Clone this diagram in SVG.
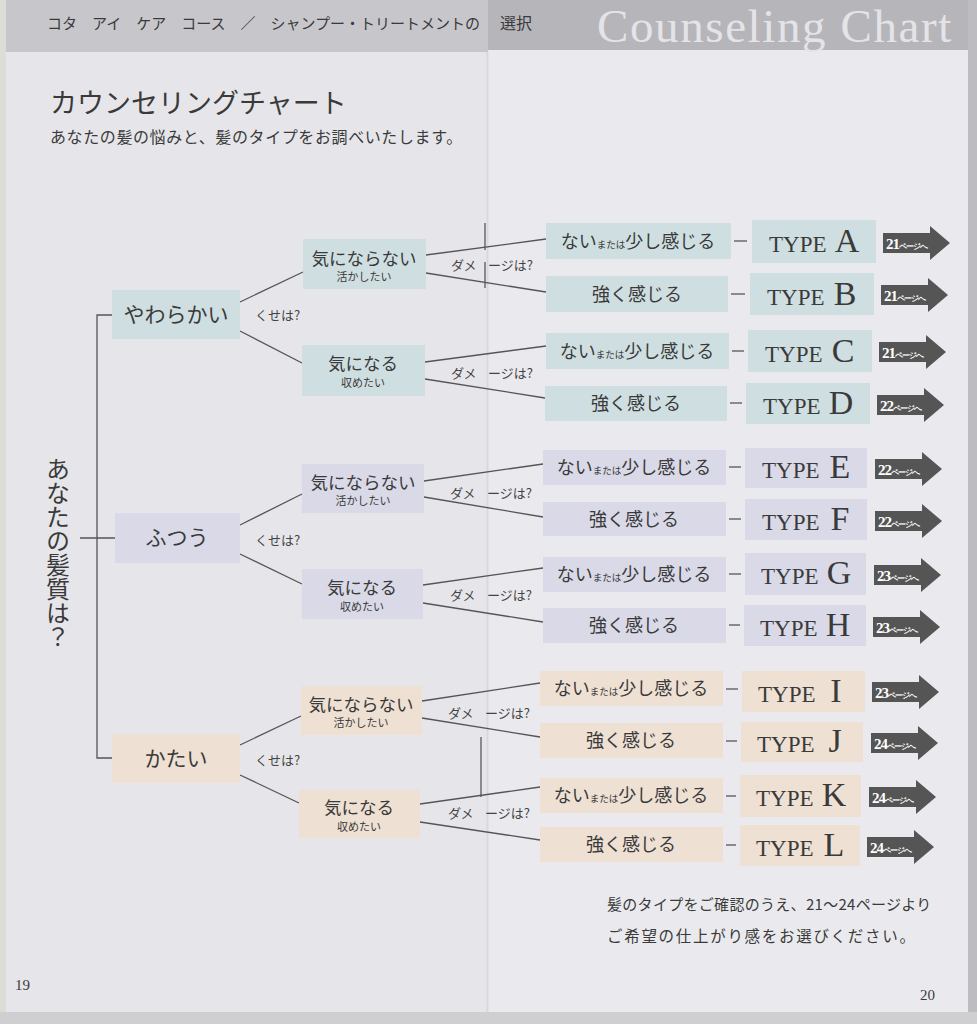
<svg xmlns="http://www.w3.org/2000/svg" width="977" height="1024" viewBox="0 0 977 1024">
<style>
.jp{font-family:"Noto Sans CJK JP","Noto Sans",sans-serif;fill:#3a3a3a}
.sr{font-family:"Liberation Serif","DejaVu Serif",serif;fill:#3a3a3a}
.bl{fill:#cfdfe1}
.pu{fill:#d9d9e7}
.be{fill:#eee0d3}
.conn{stroke:#555;stroke-width:1.3;fill:none}
.arr{fill:#555}
.l1{font-size:21px}
.l2{font-size:17.5px}
.l2s{font-size:11px}
.l3{font-size:18px}
.l3s{font-size:9.5px}
.q{font-size:13px;fill:#444}
.tp{font-size:23px}
.tl{font-size:34px}
.an{font-size:15px;fill:#fff;font-weight:bold;letter-spacing:-1px}
.as{font-size:7.5px;fill:#fff}
</style>
<defs>
<path id="ar" d="M0,-10 H47 V-17 L67,0 L47,17 V10 H0 Z"/>
</defs>
<!-- background -->
<rect x="0" y="0" width="977" height="1024" fill="#cfcfd1"/>
<rect x="6" y="0" width="482" height="1012" fill="#e6e6ea"/>
<rect x="488" y="0" width="480" height="1012" fill="#eaeaee"/>
<rect x="968" y="0" width="9" height="1012" fill="#bdbdc1"/>
<rect x="0" y="0" width="6" height="1012" fill="#dedcd6"/>
<line x1="487.5" y1="52" x2="487.5" y2="1012" stroke="#d9d9dd" stroke-width="2"/>
<!-- header -->
<rect x="6" y="0" width="482" height="52" fill="#c7c7cb"/>
<rect x="488" y="0" width="480" height="50" fill="#b6b6ba"/>
<text class="jp" x="47" y="29" font-size="15" fill="#333">コタ　アイ　ケア　コース　／　シャンプー・トリートメントの</text>
<text class="jp" x="500" y="29" font-size="16" fill="#333">選択</text>
<text x="597" y="42" font-family="Liberation Serif, serif" font-size="47" letter-spacing="1.6" fill="#e4e4e8">Counseling Chart</text>
<!-- title -->
<text class="jp" x="50" y="113" font-size="27" fill="#444">カウンセリングチャート</text>
<text class="jp" x="50" y="143" font-size="16" fill="#777" letter-spacing="0.6">あなたの髪の悩みと、髪のタイプをお調べいたします。</text>
<!-- staples -->
<line x1="485" y1="223" x2="485" y2="250" stroke="#8a8a8e" stroke-width="2"/>
<line x1="485" y1="262" x2="485" y2="288" stroke="#8a8a8e" stroke-width="2"/>
<line x1="481" y1="737" x2="481" y2="797" stroke="#8a8a8e" stroke-width="2"/>

<!-- connectors -->
<g id="connectors">
<polyline class="conn" points="112,315 97,315 97,758 112,758"/>
<line class="conn" x1="80" y1="538" x2="115" y2="538"/>
<line class="conn" x1="240" y1="302" x2="303" y2="272"/>
<line class="conn" x1="240" y1="331" x2="302" y2="363"/>
<line class="conn" x1="240" y1="525" x2="302" y2="494"/>
<line class="conn" x1="240" y1="554" x2="302" y2="584"/>
<line class="conn" x1="240" y1="745" x2="301" y2="716"/>
<line class="conn" x1="240" y1="775" x2="299" y2="803"/>
<line class="conn" x1="426" y1="255" x2="546" y2="239"/>
<line class="conn" x1="426" y1="273" x2="546" y2="292"/>
<line class="conn" x1="425" y1="362" x2="546" y2="346"/>
<line class="conn" x1="425" y1="379" x2="545" y2="398"/>
<line class="conn" x1="424" y1="481" x2="543" y2="464"/>
<line class="conn" x1="424" y1="497" x2="543" y2="517"/>
<line class="conn" x1="423" y1="585" x2="543" y2="568"/>
<line class="conn" x1="423" y1="603" x2="543" y2="622"/>
<line class="conn" x1="422" y1="701" x2="540" y2="683"/>
<line class="conn" x1="422" y1="718" x2="540" y2="737"/>
<line class="conn" x1="420" y1="804" x2="540" y2="787"/>
<line class="conn" x1="420" y1="822" x2="540" y2="840"/>
<line class="conn" x1="734" y1="241" x2="747" y2="241"/>
<line class="conn" x1="731" y1="294" x2="745" y2="294"/>
<line class="conn" x1="732" y1="351" x2="744" y2="351"/>
<line class="conn" x1="730" y1="403" x2="742" y2="403"/>
<line class="conn" x1="729" y1="467" x2="741" y2="467"/>
<line class="conn" x1="729" y1="519" x2="741" y2="519"/>
<line class="conn" x1="729" y1="574" x2="741" y2="574"/>
<line class="conn" x1="729" y1="625" x2="740" y2="625"/>
<line class="conn" x1="726" y1="689" x2="738" y2="689"/>
<line class="conn" x1="726" y1="741" x2="737" y2="741"/>
<line class="conn" x1="726" y1="796" x2="736" y2="796"/>
<line class="conn" x1="726" y1="845" x2="736" y2="845"/>
</g>

<!-- question labels -->
<g id="questions">
<text class="jp q" x="255" y="320">くせは?</text>
<text class="jp q" x="255" y="545">くせは?</text>
<text class="jp q" x="255" y="765">くせは?</text>
<text class="jp q" y="270"><tspan x="451">ダメ</tspan><tspan x="488">ージは?</tspan></text>
<text class="jp q" y="378"><tspan x="451">ダメ</tspan><tspan x="488">ージは?</tspan></text>
<text class="jp q" y="498"><tspan x="450">ダメ</tspan><tspan x="487">ージは?</tspan></text>
<text class="jp q" y="600"><tspan x="450">ダメ</tspan><tspan x="487">ージは?</tspan></text>
<text class="jp q" y="718"><tspan x="448">ダメ</tspan><tspan x="485">ージは?</tspan></text>
<text class="jp q" y="818"><tspan x="448">ダメ</tspan><tspan x="485">ージは?</tspan></text>
</g>

<!-- root -->
<g id="root">
<text class="jp" x="58" y="457" font-size="24" fill="#555" writing-mode="vertical-rl">あなたの髪質は？</text>
</g>

<!-- level 1 -->
<g id="n-yawarakai"><rect class="bl" x="112" y="290" width="128" height="49"/><text class="jp l1" x="176" y="322" text-anchor="middle">やわらかい</text></g>
<g id="n-futsuu"><rect class="pu" x="115" y="513" width="125" height="50"/><text class="jp l1" x="177" y="545" text-anchor="middle">ふつう</text></g>
<g id="n-katai"><rect class="be" x="112" y="734" width="128" height="49"/><text class="jp l1" x="176" y="766" text-anchor="middle">かたい</text></g>

<!-- level 2 -->
<g id="n-b-kininaranai"><rect class="bl" x="303" y="239" width="123" height="50"/><text class="jp l2" x="364" y="265" text-anchor="middle">気にならない</text><text class="jp l2s" x="364" y="281" text-anchor="middle">活かしたい</text></g>
<g id="n-b-kininaru"><rect class="bl" x="302" y="345" width="123" height="51"/><text class="jp l2" x="363" y="370" text-anchor="middle">気になる</text><text class="jp l2s" x="363" y="387" text-anchor="middle">収めたい</text></g>
<g id="n-p-kininaranai"><rect class="pu" x="302" y="464" width="122" height="49"/><text class="jp l2" x="363" y="489" text-anchor="middle">気にならない</text><text class="jp l2s" x="363" y="505" text-anchor="middle">活かしたい</text></g>
<g id="n-p-kininaru"><rect class="pu" x="302" y="569" width="121" height="50"/><text class="jp l2" x="362" y="594" text-anchor="middle">気になる</text><text class="jp l2s" x="362" y="611" text-anchor="middle">収めたい</text></g>
<g id="n-e-kininaranai"><rect class="be" x="301" y="686" width="121" height="49"/><text class="jp l2" x="361" y="711" text-anchor="middle">気にならない</text><text class="jp l2s" x="361" y="727" text-anchor="middle">活かしたい</text></g>
<g id="n-e-kininaru"><rect class="be" x="299" y="790" width="121" height="48"/><text class="jp l2" x="359" y="814" text-anchor="middle">気になる</text><text class="jp l2s" x="359" y="831" text-anchor="middle">収めたい</text></g>

<!-- level 3 -->
<g id="n-b-1"><rect class="bl" x="546" y="223" width="185" height="36"/><text class="jp l3" x="638" y="248" text-anchor="middle">ない<tspan class="l3s">または</tspan>少し感じる</text></g>
<g id="n-b-2"><rect class="bl" x="546" y="276" width="182" height="36"/><text class="jp l3" x="637" y="301" text-anchor="middle">強く感じる</text></g>
<g id="n-b-3"><rect class="bl" x="546" y="333" width="183" height="36"/><text class="jp l3" x="637" y="358" text-anchor="middle">ない<tspan class="l3s">または</tspan>少し感じる</text></g>
<g id="n-b-4"><rect class="bl" x="545" y="386" width="182" height="35"/><text class="jp l3" x="636" y="410" text-anchor="middle">強く感じる</text></g>
<g id="n-p-1"><rect class="pu" x="543" y="450" width="183" height="35"/><text class="jp l3" x="634" y="474" text-anchor="middle">ない<tspan class="l3s">または</tspan>少し感じる</text></g>
<g id="n-p-2"><rect class="pu" x="543" y="502" width="183" height="34"/><text class="jp l3" x="634" y="526" text-anchor="middle">強く感じる</text></g>
<g id="n-p-3"><rect class="pu" x="543" y="557" width="183" height="35"/><text class="jp l3" x="634" y="581" text-anchor="middle">ない<tspan class="l3s">または</tspan>少し感じる</text></g>
<g id="n-p-4"><rect class="pu" x="543" y="608" width="183" height="35"/><text class="jp l3" x="634" y="632" text-anchor="middle">強く感じる</text></g>
<g id="n-e-1"><rect class="be" x="540" y="671" width="183" height="35"/><text class="jp l3" x="631" y="695" text-anchor="middle">ない<tspan class="l3s">または</tspan>少し感じる</text></g>
<g id="n-e-2"><rect class="be" x="540" y="723" width="183" height="35"/><text class="jp l3" x="631" y="747" text-anchor="middle">強く感じる</text></g>
<g id="n-e-3"><rect class="be" x="540" y="778" width="183" height="35"/><text class="jp l3" x="631" y="802" text-anchor="middle">ない<tspan class="l3s">または</tspan>少し感じる</text></g>
<g id="n-e-4"><rect class="be" x="540" y="827" width="183" height="35"/><text class="jp l3" x="631" y="851" text-anchor="middle">強く感じる</text></g>

<!-- types -->
<g id="type-A"><rect class="bl" x="752" y="220" width="124" height="43"/><text class="sr tp" x="769" y="252">TYPE</text><text class="sr tl" x="847" y="252" text-anchor="middle">A</text><use href="#ar" class="arr" x="883" y="243"/><text class="sr an" x="886" y="249">21<tspan class="as">ページへ</tspan></text></g>
<g id="type-B"><rect class="bl" x="750" y="273" width="124" height="42"/><text class="sr tp" x="767" y="305">TYPE</text><text class="sr tl" x="845" y="305" text-anchor="middle">B</text><use href="#ar" class="arr" x="881" y="295"/><text class="sr an" x="884" y="301">21<tspan class="as">ページへ</tspan></text></g>
<g id="type-C"><rect class="bl" x="748" y="330" width="124" height="42"/><text class="sr tp" x="765" y="362">TYPE</text><text class="sr tl" x="843" y="362" text-anchor="middle">C</text><use href="#ar" class="arr" x="879" y="352"/><text class="sr an" x="882" y="358">21<tspan class="as">ページへ</tspan></text></g>
<g id="type-D"><rect class="bl" x="746" y="383" width="124" height="41"/><text class="sr tp" x="763" y="414">TYPE</text><text class="sr tl" x="841" y="414" text-anchor="middle">D</text><use href="#ar" class="arr" x="877" y="405"/><text class="sr an" x="880" y="411">22<tspan class="as">ページへ</tspan></text></g>
<g id="type-E"><rect class="pu" x="745" y="448" width="122" height="40"/><text class="sr tp" x="762" y="478">TYPE</text><text class="sr tl" x="840" y="478" text-anchor="middle">E</text><use href="#ar" class="arr" x="875" y="469"/><text class="sr an" x="878" y="475">22<tspan class="as">ページへ</tspan></text></g>
<g id="type-F"><rect class="pu" x="745" y="499" width="122" height="41"/><text class="sr tp" x="762" y="530">TYPE</text><text class="sr tl" x="840" y="530" text-anchor="middle">F</text><use href="#ar" class="arr" x="875" y="521"/><text class="sr an" x="878" y="527">22<tspan class="as">ページへ</tspan></text></g>
<g id="type-G"><rect class="pu" x="745" y="553" width="121" height="42"/><text class="sr tp" x="761" y="584">TYPE</text><text class="sr tl" x="839" y="584" text-anchor="middle">G</text><use href="#ar" class="arr" x="874" y="575"/><text class="sr an" x="877" y="581">23<tspan class="as">ページへ</tspan></text></g>
<g id="type-H"><rect class="pu" x="744" y="605" width="122" height="41"/><text class="sr tp" x="760" y="636">TYPE</text><text class="sr tl" x="838" y="636" text-anchor="middle">H</text><use href="#ar" class="arr" x="873" y="627"/><text class="sr an" x="876" y="633">23<tspan class="as">ページへ</tspan></text></g>
<g id="type-I"><rect class="be" x="742" y="671" width="123" height="41"/><text class="sr tp" x="758" y="702">TYPE</text><text class="sr tl" x="836" y="702" text-anchor="middle">I</text><use href="#ar" class="arr" x="872" y="692"/><text class="sr an" x="875" y="698">23<tspan class="as">ページへ</tspan></text></g>
<g id="type-J"><rect class="be" x="741" y="722" width="122" height="40"/><text class="sr tp" x="757" y="752">TYPE</text><text class="sr tl" x="835" y="752" text-anchor="middle">J</text><use href="#ar" class="arr" x="871" y="743"/><text class="sr an" x="874" y="749">24<tspan class="as">ページへ</tspan></text></g>
<g id="type-K"><rect class="be" x="740" y="775" width="121" height="42"/><text class="sr tp" x="756" y="806">TYPE</text><text class="sr tl" x="834" y="806" text-anchor="middle">K</text><use href="#ar" class="arr" x="869" y="797"/><text class="sr an" x="872" y="803">24<tspan class="as">ページへ</tspan></text></g>
<g id="type-L"><rect class="be" x="740" y="825" width="120" height="41"/><text class="sr tp" x="756" y="856">TYPE</text><text class="sr tl" x="834" y="856" text-anchor="middle">L</text><use href="#ar" class="arr" x="867" y="847"/><text class="sr an" x="870" y="853">24<tspan class="as">ページへ</tspan></text></g>

<!-- footer -->
<text class="jp" x="607" y="910" font-size="15" fill="#555" letter-spacing="0.3">髪のタイプをご確認のうえ、21〜24ページより</text>
<text class="jp" x="607" y="942" font-size="15.5" fill="#555" letter-spacing="1.7">ご希望の仕上がり感をお選びください。</text>
<text class="sr" x="15" y="990" font-size="15" fill="#555">19</text>
<text class="sr" x="920" y="1000" font-size="15" fill="#555">20</text>
</svg>
